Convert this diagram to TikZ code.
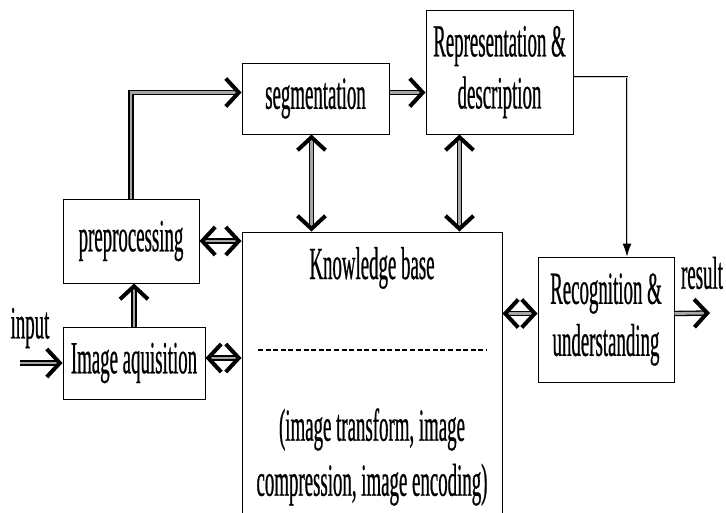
\documentclass[tikz,border=0pt]{standalone}
\usepackage{fontspec}
\setmainfont[FakeStretch=0.41,FakeBold=0.5]{Liberation Serif}
\usetikzlibrary{arrows.meta}

\begin{document}
\begin{tikzpicture}
[x=1pt,y=-1pt,
  textdecorate/.style={font=\fontsize{46}{52}\selectfont,align=center,inner sep=0pt},%
  boxdecorate/.style={shape=rectangle,draw,line width=1pt,textdecorate},%
  linedecorate/.style={draw=black,line width=1.3pt,double=gray!70,double distance=2.8pt},%
  arrowdecorate/.style={linedecorate,-{Straight Barb[length=13pt,width=28pt,line width=4pt]}},%
  bothdecorate/.style={linedecorate,{Straight Barb[length=13pt,width=28pt,line width=4pt]}-{Straight Barb[length=13pt,width=28pt,line width=4pt]}},%
  thindecorate/.style={draw=black,line width=1pt,double=gray!40,double distance=0.9pt,-{Latex[length=13pt,width=9pt]}}]
\useasboundingbox (0,0) rectangle (726,512);
\clip (0,0) rectangle (726,512);
%% nodes or boxes
\foreach \nodename/\x/\y/\w/\h/\txt in {acq/134/363/142/72/{Image aquisition},
    pre/131/241/136/84/{preprocessing}, seg/315.5/98.5/147/71/{segmentation},
    rep/499.5/72/147/124/{Representation \&\\ description},
    rec/606/319.5/136/125/{Recognition \&\\ understanding}} {
  \node (\nodename) at (\x,\y) [boxdecorate,minimum width=\w pt,minimum height=\h pt] {\txt};
}
\node (kb) at (372,382) [boxdecorate,minimum width=260pt,minimum height=300pt] {};
\node (kbtitle) at (372,268) [textdecorate] {Knowledge base};
\node (kbtext) at (372,457) [textdecorate,font=\fontsize{46}{55}\selectfont] {(image transform, image\\ compression, image encoding)};
\draw[line width=2.2pt,dash pattern=on 5pt off 2.6pt] (258,350) -- (487,350);
%% free ends and labels
\node (inputlabel) at (30,328) [textdecorate] {input};
\node (resultlabel) at (702,273) [textdecorate] {result};
\coordinate (inputstart) at (20,363);
\coordinate (resultend) at (710,313);
%% ends of the two-headed arrows
\coordinate (segkb1) at ([xshift=-4pt]seg.south);
\coordinate (segkb2) at (segkb1 |- kb.north);
\coordinate (repkb1) at ([xshift=-40pt]rep.south);
\coordinate (repkb2) at (repkb1 |- kb.north);
\coordinate (prekb1) at (pre.east);
\coordinate (prekb2) at (prekb1 -| kb.west);
\coordinate (acqkb1) at ([yshift=5pt]acq.east);
\coordinate (acqkb2) at (acqkb1 -| kb.west);
\coordinate (reckb1) at ([yshift=6pt]rec.west);
\coordinate (reckb2) at (reckb1 -| kb.east);
%% arrows
\draw[arrowdecorate] (inputstart) -- (acq.west);
\draw[arrowdecorate] (acq.north) -- (acq.north |- pre.south);
\draw[arrowdecorate] (pre.north) |- ([yshift=6pt]seg.west);
\draw[arrowdecorate] ([yshift=6pt]seg.east) -- ([yshift=6pt]seg.east -| rep.west);
\draw[thindecorate] ([yshift=-5pt]rep.east) -| ([xshift=21pt]rec.north);
\draw[arrowdecorate] ([yshift=6pt]rec.east) -- (resultend);
\path
\foreach \startnode/\endnode in {segkb1/segkb2, repkb1/repkb2, prekb1/prekb2, acqkb1/acqkb2, reckb1/reckb2} {
  (\startnode) edge[bothdecorate] (\endnode)
};
\end{tikzpicture}
\end{document}
